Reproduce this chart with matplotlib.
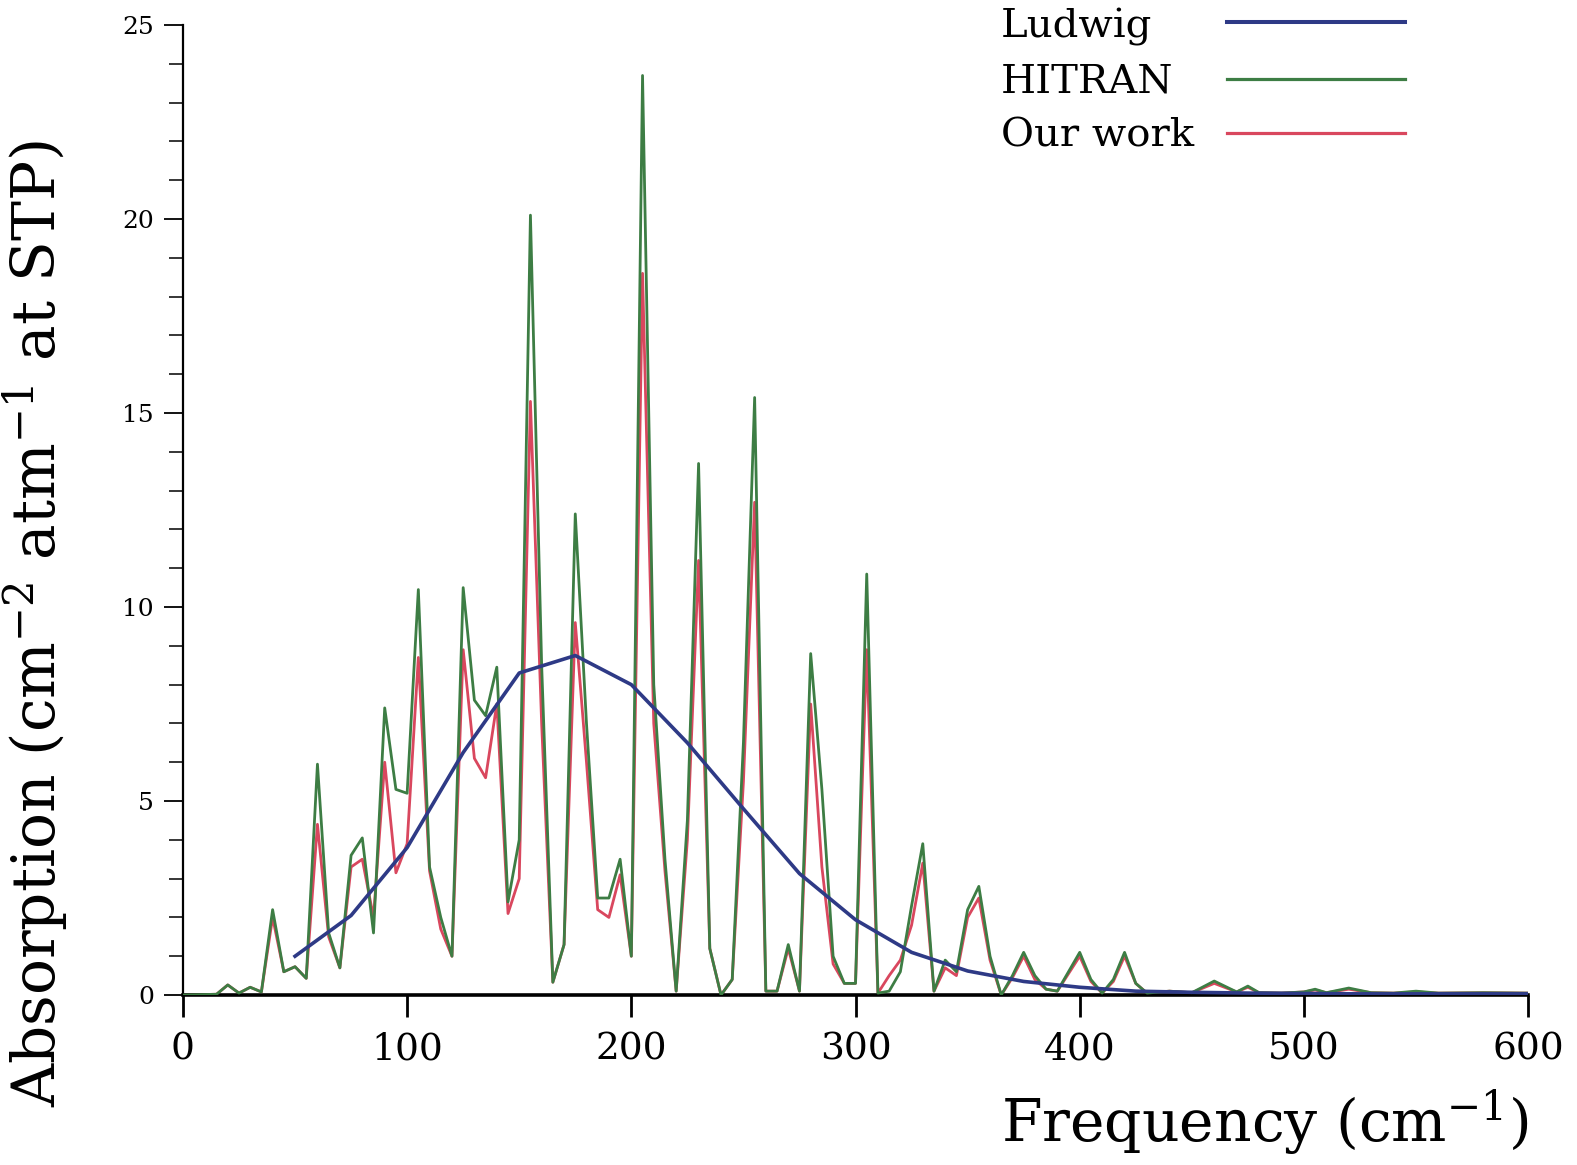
import matplotlib
matplotlib.use("Agg")
import matplotlib.pyplot as plt
from matplotlib.lines import Line2D
from matplotlib.ticker import MultipleLocator

plt.rcParams["font.family"] = ["DejaVu Serif"]
plt.rcParams["mathtext.fontset"] = "dejavuserif"

# spectra (cm^-1, cm^-2 atm^-1)
freq = [0, 15, 20, 25, 30, 35, 40, 45, 50, 55, 60, 65, 70, 75, 80, 85, 90, 95,
        100, 105, 110, 115, 120, 125, 130, 135, 140, 145, 150, 155, 160, 165,
        170, 175, 180, 185, 190, 195, 200, 205, 210, 215, 220, 225, 230, 235,
        240, 245, 250, 255, 260, 265, 270, 275, 280, 285, 290, 295, 300, 305,
        310, 315, 320, 325, 330, 335, 340, 345, 350, 355, 360, 365, 370, 375,
        380, 385, 390, 395, 400, 405, 410, 415, 420, 425, 430, 440, 450, 460,
        470, 475, 480, 490, 500, 505, 510, 520, 530, 540, 550, 560, 580, 600]

hitran = [0.0, 0.02, 0.26, 0.05, 0.2, 0.08, 2.2, 0.6, 0.73, 0.43, 5.95, 1.6,
          0.7, 3.6, 4.05, 1.6, 7.4, 5.3, 5.2, 10.45, 3.3, 2.0, 1.0, 10.5, 7.6,
          7.2, 8.45, 2.4, 4.0, 20.1, 8.5, 0.33, 1.3, 12.4, 7.0, 2.5, 2.5, 3.5,
          1.0, 23.7, 8.0, 3.5, 0.1, 4.5, 13.7, 1.2, 0.0, 0.4, 6.5, 15.4, 0.1,
          0.1, 1.3, 0.1, 8.8, 5.3, 1.0, 0.3, 0.3, 10.85, 0.05, 0.1, 0.6, 2.3,
          3.9, 0.1, 0.9, 0.6, 2.2, 2.8, 1.0, 0.0, 0.5, 1.1, 0.5, 0.15, 0.1, 0.6,
          1.1, 0.4, 0.05, 0.4, 1.1, 0.3, 0.05, 0.1, 0.06, 0.36, 0.08, 0.23,
          0.06, 0.05, 0.08, 0.15, 0.06, 0.18, 0.06, 0.05, 0.1, 0.05, 0.06, 0.05]

our_work = [0.0, 0.02, 0.26, 0.05, 0.2, 0.08, 2.0, 0.6, 0.73, 0.43, 4.4, 1.5,
            0.7, 3.3, 3.5, 2.0, 6.0, 3.15, 3.9, 8.7, 3.2, 1.7, 1.0, 8.9, 6.1,
            5.6, 7.5, 2.1, 3.0, 15.3, 7.0, 0.33, 1.3, 9.6, 6.0, 2.2, 2.0, 3.1,
            1.0, 18.6, 7.0, 3.2, 0.1, 4.0, 11.2, 1.2, 0.0, 0.4, 5.5, 12.7, 0.1,
            0.1, 1.2, 0.1, 7.5, 3.3, 0.8, 0.3, 0.3, 8.9, 0.05, 0.5, 0.9, 1.8,
            3.4, 0.1, 0.7, 0.5, 2.0, 2.5, 0.9, 0.0, 0.45, 1.0, 0.4, 0.15, 0.1,
            0.55, 1.0, 0.35, 0.05, 0.35, 1.0, 0.3, 0.05, 0.1, 0.06, 0.3, 0.08,
            0.2, 0.06, 0.05, 0.08, 0.13, 0.06, 0.15, 0.06, 0.05, 0.08, 0.05,
            0.06, 0.05]

ludwig_freq = [50, 75, 100, 125, 150, 175, 200, 225, 250, 275, 300, 325, 350,
               375, 400, 425, 450, 475, 500, 525, 550, 575, 600]
ludwig = [1.0, 2.05, 3.8, 6.25, 8.3, 8.75, 8.0, 6.5, 4.8, 3.13, 1.94, 1.1,
          0.62, 0.35, 0.2, 0.1, 0.07, 0.05, 0.04, 0.03, 0.03, 0.03, 0.03]

legend_names = ["Ludwig", "HITRAN", "Our work"]

C_BLUE = "#2e3a86"
C_GREEN = "#3d7d44"
C_RED = "#d9475e"

fig = plt.figure(figsize=(15.77, 11.65), dpi=100)
ax = fig.add_axes([0.116, 0.1459, 0.853, 0.8326])

ax.plot(freq, our_work, color=C_RED, lw=2.0, label="Our work", zorder=2)
ax.plot(freq, hitran, color=C_GREEN, lw=2.0, label="HITRAN", zorder=3)
ax.plot(ludwig_freq, ludwig, color=C_BLUE, lw=2.6, label="Ludwig", zorder=4)

ax.set_xlim(0, 600)
ax.set_ylim(0, 25)
ax.spines["top"].set_visible(False)
ax.spines["right"].set_visible(False)
ax.spines["left"].set_linewidth(1.6)
ax.spines["bottom"].set_linewidth(2.6)

ax.xaxis.set_major_locator(MultipleLocator(100))
ax.yaxis.set_major_locator(MultipleLocator(5))
ax.yaxis.set_minor_locator(MultipleLocator(1))
ax.tick_params(axis="x", direction="out", length=16, width=2.0, pad=10,
               labelsize=27)
ax.tick_params(axis="y", which="major", direction="out", length=14, width=1.3,
               pad=7, labelsize=18)
ax.tick_params(axis="y", which="minor", direction="out", length=10, width=1.1)

ax.set_xlabel(r"Frequency (cm$^{-1}$)", fontsize=42, ha="right")
ax.xaxis.set_label_coords(1.0, -0.095)
ax.set_ylabel(r"Absorption (cm$^{-2}$ atm$^{-1}$ at STP)", fontsize=43)
ax.yaxis.set_label_coords(-0.083, 0.383)

# legend: names left-aligned, sample lines to their right
legend_colors = [C_BLUE, C_GREEN, C_RED]
legend_widths = [2.6, 2.0, 2.0]
baselines = [0.968, 0.9206, 0.874]
line_ys = [0.981, 0.932, 0.886]
for name, col, lw, yb, yl in zip(legend_names, legend_colors, legend_widths,
                                 baselines, line_ys):
    fig.text(0.6346, yb, name, fontsize=29, va="baseline", ha="left")
    fig.add_artist(Line2D([0.778, 0.891], [yl, yl], color=col, lw=lw + 0.3,
                          transform=fig.transFigure))

fig.savefig("out.png", dpi=100)
